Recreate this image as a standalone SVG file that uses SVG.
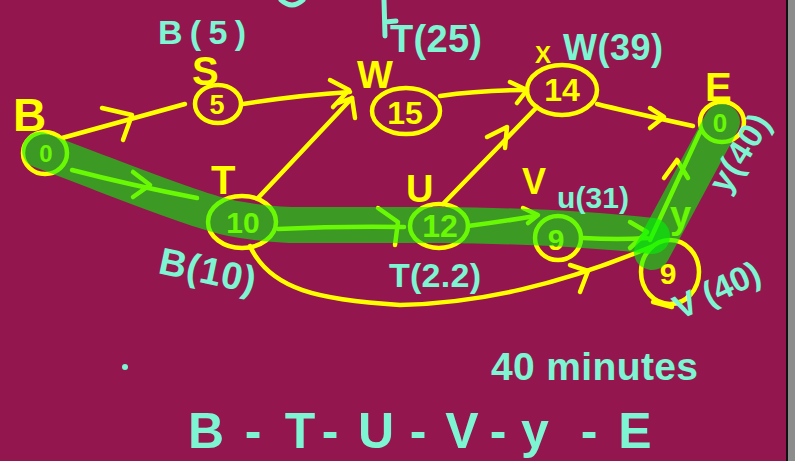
<svg xmlns="http://www.w3.org/2000/svg" width="795" height="461" viewBox="0 0 795 461">
<style>
.bg{fill:#93174E}
.y{fill:none;stroke:#FFFF00;stroke-width:4.5;stroke-linecap:round;stroke-linejoin:round}
.yt{fill:#FFFF00;font-family:"Liberation Sans",Arial,sans-serif;font-weight:bold}
.tt{fill:#7DF5D2;font-family:"Liberation Sans",Arial,sans-serif;font-weight:bold}
.ts{fill:none;stroke:#7DF5D2;stroke-width:5;stroke-linecap:round;stroke-linejoin:round}
.band{fill:none;stroke:#00F507;stroke-opacity:0.59;stroke-width:36;stroke-linecap:round;stroke-linejoin:round}
.num{text-anchor:middle}
</style>
<rect class="bg" x="0" y="0" width="795" height="461"/>
<rect x="788" y="0" width="7" height="461" fill="#8C8C8C"/>
<rect x="786" y="0" width="2" height="461" fill="#111111"/>

<g id="connectors">
  <path class="y" d="M62,138 L185,104"/>
  <path class="y" d="M102,108 L132,115 L123,140"/>
  <path class="y" d="M243,104 Q300,95 350,92"/>
  <path class="y" d="M330,80 L349,90 L333,107"/>
  <path class="y" d="M258,198 L352,98"/>
  <path class="y" d="M338,103 L352,98 L355,118"/>
  <path class="y" d="M440,96 Q480,90 527,90"/>
  <path class="y" d="M510,82 L527,90 L517,103"/>
  <path class="y" d="M443,204 L537,107"/>
  <path class="y" d="M487,137 L507,127 L505,148"/>
  <path class="y" d="M597,104 Q620,110 693,126"/>
  <path class="y" d="M650,108 L664,117 L650,128"/>
  <path class="y" d="M278,229 Q340,226 404,227"/>
  <path class="y" d="M378,208 L398,222 L395,245"/>
  <path class="y" d="M72,170 Q130,185 197,198"/>
  <path class="y" d="M133,172 L150,185 L133,197"/>
  <path class="y" d="M468,226 Q500,222 535,216"/>
  <path class="y" d="M523,208 L538,215 L528,223"/>
  <path class="y" d="M583,238 Q620,240 647,238"/>
  <path class="y" d="M630,222 L647,232 L630,248"/>
  <path class="y" d="M250,246 C270,290 320,300 400,305 C480,303 560,285 653,246"/>
  <path class="y" d="M570,265 L588,271 L580,292"/>
  <path class="y" d="M650,240 L700,132"/>
  <path class="y" d="M664,178 L677,160 L688,178"/>
</g>

<g id="node-B">
  <ellipse class="y" cx="45" cy="153" rx="22" ry="21"/>
  <text class="yt" x="13" y="131" font-size="46">B</text>
  <text class="yt num" x="46" y="162" font-size="24">0</text>
</g>
<g id="node-S">
  <ellipse class="y" cx="218" cy="104" rx="23" ry="19"/>
  <text class="yt" x="192" y="85" font-size="40">S</text>
  <text class="yt num" x="217" y="114" font-size="27">5</text>
</g>
<g id="node-W">
  <ellipse class="y" cx="406" cy="111" rx="34" ry="23"/>
  <text class="yt" x="357" y="88" font-size="38">W</text>
  <text class="yt num" x="405" y="124" font-size="32">15</text>
</g>
<g id="node-X">
  <ellipse class="y" cx="562" cy="90" rx="35" ry="25"/>
  <text class="yt" x="535" y="63" font-size="24">X</text>
  <text class="yt num" x="562" y="101" font-size="32">14</text>
</g>
<g id="node-E">
  <ellipse class="y" cx="722" cy="122" rx="22" ry="20"/>
  <text class="yt" x="705" y="101" font-size="40">E</text>
  <text class="yt num" x="720" y="132" font-size="26">0</text>
</g>
<g id="node-T">
  <ellipse class="y" cx="242" cy="222" rx="34" ry="26"/>
  <text class="yt" x="211" y="194" font-size="40">T</text>
  <text class="yt num" x="243" y="233" font-size="30">10</text>
</g>
<g id="node-U">
  <ellipse class="y" cx="439" cy="226" rx="29" ry="22"/>
  <text class="yt" x="406" y="202" font-size="38">U</text>
  <text class="yt num" x="440" y="237" font-size="32">12</text>
</g>
<g id="node-V">
  <ellipse class="y" cx="558" cy="238" rx="23" ry="22"/>
  <text class="yt" x="522" y="194" font-size="36">V</text>
  <text class="yt num" x="556" y="250" font-size="30">9</text>
</g>
<g id="node-y">
  <ellipse class="y" cx="670" cy="272" rx="29" ry="32"/>
  <path class="y" d="M653,302 L672,307"/>
  <text class="yt" x="670" y="228" font-size="38">y</text>
  <text class="yt num" x="668" y="284" font-size="30">9</text>
</g>

<g id="critical-path">
  <path class="band" d="M40,150 C120,180 175,203 215,214 Q240,222 290,225 L440,225 Q560,226 652,236"/>
  <path class="band" d="M652,252 L722,122"/>
</g>

<g id="labels">
  <text class="tt" x="158" y="44" font-size="34" textLength="88" lengthAdjust="spacing">B(5)</text>
  <path class="ts" d="M384,0 L385,36 M385,22 L396,21"/>
  <path class="ts" d="M281,0 Q292,10 303,0"/>
  <text class="tt" x="390" y="52" font-size="38" textLength="92" lengthAdjust="spacing">T(25)</text>
  <text class="tt" x="563" y="60" font-size="36" textLength="100" lengthAdjust="spacing">W(39)</text>
  <text class="tt" x="557" y="208" font-size="30" textLength="72" lengthAdjust="spacing">u(31)</text>
  <text class="tt" x="389" y="287" font-size="34" textLength="92" lengthAdjust="spacing">T(2.2)</text>
  <text class="tt" x="157" y="273" font-size="38" textLength="98" lengthAdjust="spacing" transform="rotate(12 157 273)">B(10)</text>
  <text class="tt" x="727" y="195" font-size="34" textLength="85" lengthAdjust="spacing" transform="rotate(-58 727 195)">y(40)</text>
  <text class="tt" x="680" y="320" font-size="34" textLength="92" lengthAdjust="spacing" transform="rotate(-25 680 320)">V (40)</text>
  <text class="tt" x="491" y="380" font-size="39" textLength="207" lengthAdjust="spacing">40 minutes</text>
  <text class="tt" y="448" font-size="50" text-anchor="middle" x="206 253 300 330 376 418 462 498 535 589 635">B-T-U-V-y-E</text>
  <circle cx="125" cy="367" r="3" fill="#7DF5D2"/>
</g>
</svg>
